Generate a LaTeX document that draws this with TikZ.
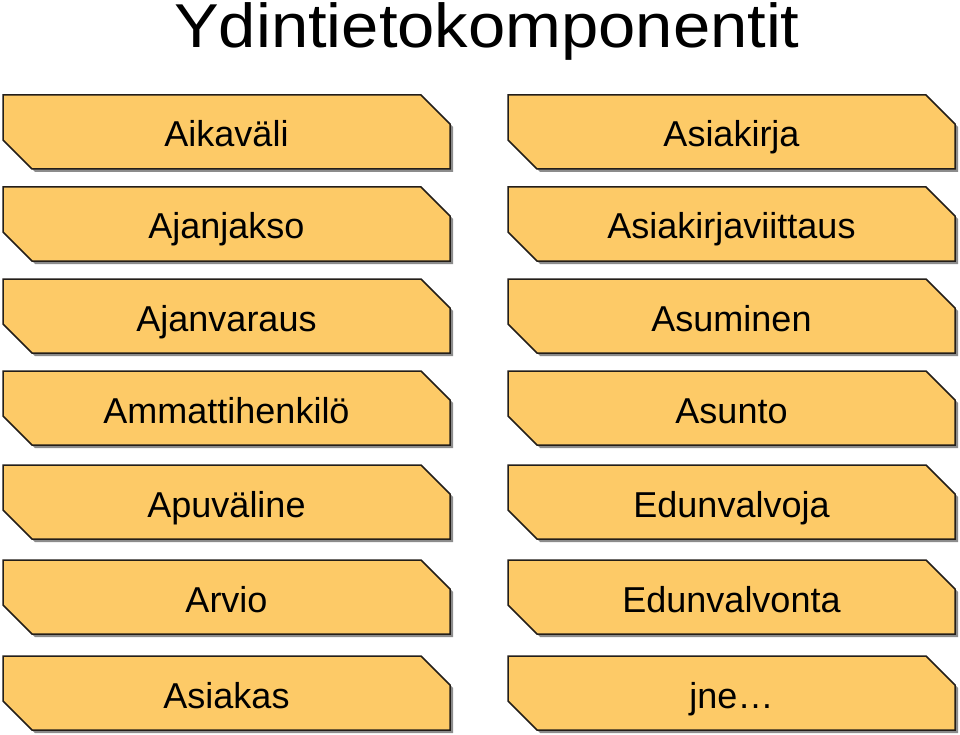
\documentclass[tikz,border=0pt]{standalone}
\usepackage{fontspec}
\setmainfont{Liberation Sans}
\definecolor{boxfill}{RGB}{253,202,103}
\definecolor{boxline}{RGB}{35,30,25}
\definecolor{shadowc}{RGB}{140,140,140}
\tikzset{
  boxshape/.style={fill=boxfill, draw=boxline, line width=1.5pt, line join=miter},
  boxshadow/.style={fill=shadowc, draw=none},
  boxlabel/.style={font=\fontsize{36}{40}\selectfont, anchor=base, inner sep=0pt, text=black},
  titlelabel/.style={font=\fontsize{62}{68}\selectfont, anchor=base, inner sep=0pt, text=black}
}
\newcommand{\chambox}[3]{% x0, y0 (top), name
  \fill[boxshadow] ({#1+3},{#2+3}) -- ({#1+447-29+3},{#2+3}) -- ({#1+447+3},{#2+29+3}) -- ({#1+447+3},{#2+74+3}) -- ({#1+29+3},{#2+74+3}) -- ({#1+3},{#2+74-29+3}) -- cycle;
  \draw[boxshape] (#1,#2) -- ({#1+447-29},#2) -- ({#1+447},{#2+29}) -- ({#1+447},{#2+74}) -- ({#1+29},{#2+74}) -- (#1,{#2+74-29}) -- cycle;
  \coordinate (#3) at ({#1+223.5},{#2+52});
}
\begin{document}
\begin{tikzpicture}[x=1pt,y=-1pt]
\useasboundingbox[fill=white] (0,0) rectangle (960,735);
\node[titlelabel] (title) at (487,48) {\scalebox{1.08}[1]{Ydintietokomponentit}};
\chambox{3}{95}{l1}
\chambox{3}{187}{l2}
\chambox{3}{279}{l3}
\chambox{3}{371}{l4}
\chambox{3}{465}{l5}
\chambox{3}{560}{l6}
\chambox{3}{656}{l7}
\chambox{508}{95}{r1}
\chambox{508}{187}{r2}
\chambox{508}{279}{r3}
\chambox{508}{371}{r4}
\chambox{508}{465}{r5}
\chambox{508}{560}{r6}
\chambox{508}{656}{r7}
\node[boxlabel] (t1) at (l1) {Aikaväli};
\node[boxlabel] (t2) at (l2) {Ajanjakso};
\node[boxlabel] (t3) at (l3) {Ajanvaraus};
\node[boxlabel] (t4) at (l4) {Ammattihenkilö};
\node[boxlabel] (t5) at (l5) {Apuväline};
\node[boxlabel] (t6) at (l6) {Arvio};
\node[boxlabel] (t7) at (l7) {Asiakas};
\node[boxlabel] (u1) at (r1) {Asiakirja};
\node[boxlabel] (u2) at (r2) {Asiakirjaviittaus};
\node[boxlabel] (u3) at (r3) {Asuminen};
\node[boxlabel] (u4) at (r4) {Asunto};
\node[boxlabel] (u5) at (r5) {Edunvalvoja};
\node[boxlabel] (u6) at (r6) {Edunvalvonta};
\node[boxlabel] (u7) at (r7) {jne…};
\end{tikzpicture}
\end{document}
